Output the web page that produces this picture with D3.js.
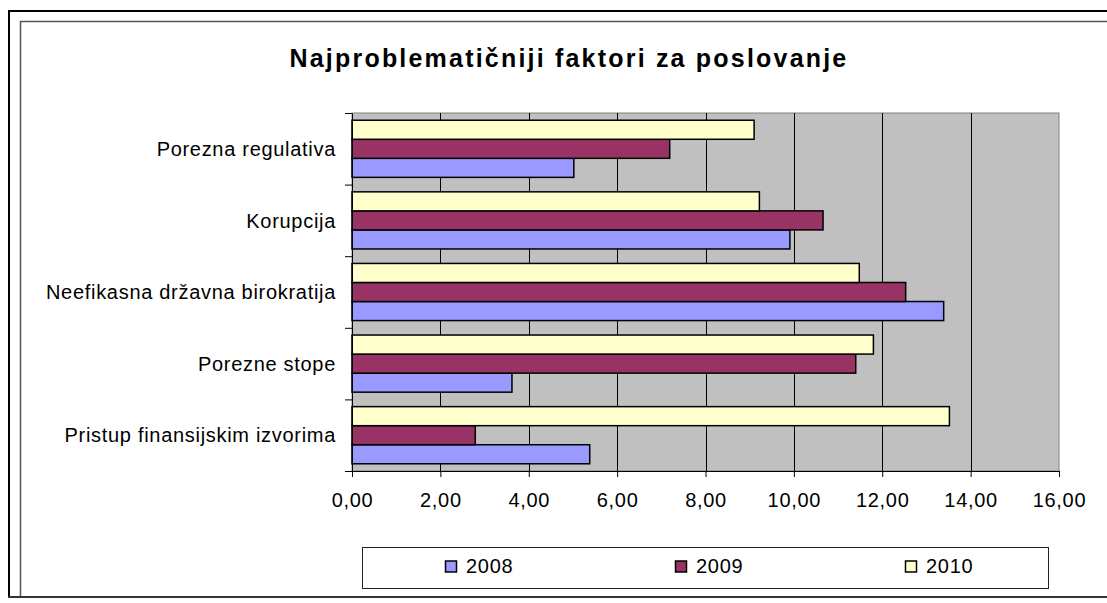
<!DOCTYPE html>
<html lang="sr">
  <head>
    <meta charset="utf-8">
    <title>Najproblematičniji faktori za poslovanje</title>
    <script src="https://d3js.org/d3.v7.min.js"></script>
    <style>
      body { margin: 0; background: #fff; }
      svg text { font-family: "Liberation Sans", Arial, sans-serif; fill: #000; letter-spacing: 0.7px; }
    </style>
  </head>
  <body>
    <div id="chart"></div>
    <script>
      // data
      var categories = ["Porezna regulativa", "Korupcija", "Neefikasna državna birokratija",
                        "Porezne stope", "Pristup finansijskim izvorima"];
      var years = ["2008", "2009", "2010"];
      var values2008 = [5.02, 9.91, 13.39, 3.62, 5.38];
      var values2009 = [7.19, 10.66, 12.53, 11.40, 2.79];
      var values2010 = [9.10, 9.22, 11.48, 11.80, 13.52];
      var xTicks = [0, 2, 4, 6, 8, 10, 12, 14, 16];
      var colors = { "2008": "#9999ff", "2009": "#993366", "2010": "#ffffcc" };

      var series = { "2008": values2008, "2009": values2009, "2010": values2010 };

      var width = 1107,
          height = 603;

      var plot = { left: 352, right: 1059, top: 113, bottom: 471 };

      var svg = d3.select("#chart").append("svg")
          .attr("width", width)
          .attr("height", height);

      // frame
      svg.append("path")
          .attr("d", "M9,597V11H1107")
          .attr("fill", "none")
          .attr("stroke", "#000")
          .attr("stroke-width", 2);
      svg.append("path")
          .attr("d", "M20.5,597V21.5H1107")
          .attr("fill", "none")
          .attr("stroke", "#555")
          .attr("stroke-width", 1.5);
      svg.append("line")
          .attr("x1", 8).attr("x2", width)
          .attr("y1", 597).attr("y2", 597)
          .attr("stroke", "#333")
          .attr("stroke-width", 2);

      svg.append("text")
          .attr("x", 569)
          .attr("y", 67)
          .attr("text-anchor", "middle")
          .attr("font-size", 25)
          .attr("font-weight", "bold")
          .style("letter-spacing", "2.2px")
          .text("Najproblematičniji faktori za poslovanje");

      var x = d3.scaleLinear()
          .domain([0, 16])
          .range([plot.left, plot.right]);

      var y0 = d3.scaleBand()
          .domain(categories)
          .range([plot.top, plot.bottom]);

      var y1 = d3.scaleBand()
          .domain(years.slice().reverse())
          .range([0, y0.bandwidth()])
          .paddingInner(0)
          .paddingOuter(0.38);

      // plot background
      svg.append("rect")
          .attr("x", plot.left)
          .attr("y", plot.top)
          .attr("width", plot.right - plot.left)
          .attr("height", plot.bottom - plot.top)
          .attr("fill", "#c0c0c0")
          .attr("stroke", "#808080")
          .attr("stroke-width", 1);

      // gridlines
      svg.append("g")
        .selectAll("line")
          .data(xTicks.slice(1, -1))
        .enter().append("line")
          .attr("x1", function(d) { return Math.round(x(d)) + 0.5; })
          .attr("x2", function(d) { return Math.round(x(d)) + 0.5; })
          .attr("y1", plot.top)
          .attr("y2", plot.bottom)
          .attr("stroke", "#000")
          .attr("stroke-width", 1);

      // bars
      var g = svg.append("g")
        .selectAll("g")
          .data(categories)
        .enter().append("g")
          .attr("transform", function(d) { return "translate(0," + y0(d) + ")"; });

      g.selectAll("rect")
          .data(function(d, i) {
            return years.map(function(yr) { return { year: yr, value: series[yr][i] }; });
          })
        .enter().append("rect")
          .attr("x", x(0))
          .attr("y", function(d) { return y1(d.year); })
          .attr("width", function(d) { return x(d.value) - x(0); })
          .attr("height", y1.bandwidth())
          .attr("fill", function(d) { return colors[d.year]; })
          .attr("stroke", "#000")
          .attr("stroke-width", 1.5);

      // x axis
      var xAxis = svg.append("g")
          .attr("transform", "translate(0," + plot.bottom + ")")
          .call(d3.axisBottom(x)
            .tickValues(xTicks)
            .tickSize(6)
            .tickPadding(16)
            .tickFormat(function(d) { return d.toFixed(2).replace(".", ","); }));
      xAxis.select(".domain").attr("stroke", "#000");
      xAxis.selectAll("text")
          .attr("font-size", 20)
          .attr("font-family", "Liberation Sans, Arial, sans-serif");

      // y axis (ticks at category boundaries)
      var yb = d3.scaleLinear()
          .domain([0, categories.length])
          .range([plot.top, plot.bottom]);
      var yAxis = svg.append("g")
          .attr("transform", "translate(" + plot.left + ",0)")
          .call(d3.axisLeft(yb)
            .tickValues(d3.range(categories.length + 1))
            .tickSize(7)
            .tickSizeOuter(0)
            .tickFormat(""));
      yAxis.select(".domain").attr("stroke", "#000");

      svg.append("g")
        .selectAll("text")
          .data(categories)
        .enter().append("text")
          .attr("x", 336)
          .attr("y", function(d) { return y0(d) + y0.bandwidth() / 2; })
          .attr("dy", "0.36em")
          .attr("text-anchor", "end")
          .attr("font-size", 20)
          .text(function(d) { return d; });

      // legend
      var legend = svg.append("g");
      legend.append("rect")
          .attr("x", 362.5)
          .attr("y", 547.5)
          .attr("width", 686)
          .attr("height", 41)
          .attr("fill", "#fff")
          .attr("stroke", "#222")
          .attr("stroke-width", 1);

      var item = legend.selectAll("g")
          .data(years)
        .enter().append("g")
          .attr("transform", function(d, i) { return "translate(" + (445 + i * 230) + ",0)"; });

      item.append("rect")
          .attr("x", 0.5)
          .attr("y", 561)
          .attr("width", 11)
          .attr("height", 11)
          .attr("fill", function(d) { return colors[d]; })
          .attr("stroke", "#000")
          .attr("stroke-width", 1.5);

      item.append("text")
          .attr("x", 21)
          .attr("y", 573)
          .attr("font-size", 20)
          .text(function(d) { return d; });
    </script>
  </body>
</html>
